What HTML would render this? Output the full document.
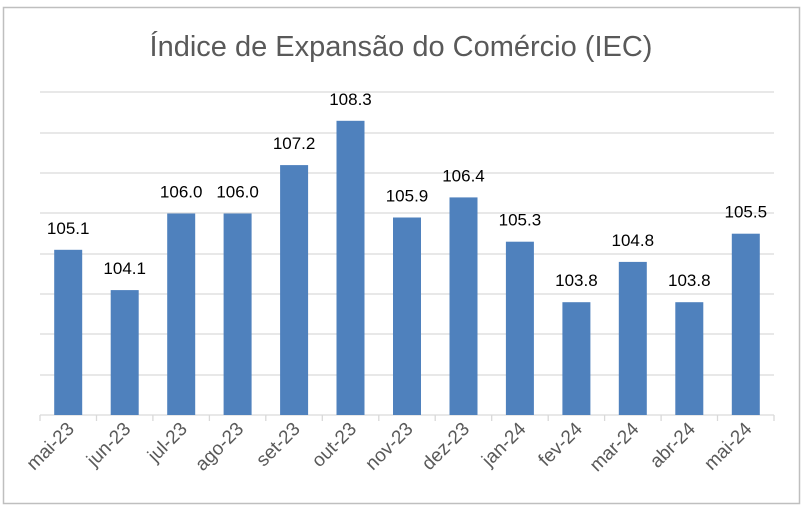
<!DOCTYPE html>
<html><head><meta charset="utf-8"><style>body{margin:0;background:#fff}svg{display:block}</style></head>
<body>
<svg width="804" height="508" xmlns="http://www.w3.org/2000/svg">
<rect x="3.5" y="7.5" width="796" height="496" fill="#fff" stroke="#bfbfbf" stroke-width="1.5"/>
<text x="401" y="56" text-anchor="middle" font-family="Liberation Sans, sans-serif" font-size="29" fill="#595959">Índice de Expansão do Comércio (IEC)</text>
<g stroke="#d9d9d9" stroke-width="1.3">
<line x1="40" x2="774" y1="92" y2="92"/><line x1="40" x2="774" y1="133" y2="133"/><line x1="40" x2="774" y1="173" y2="173"/><line x1="40" x2="774" y1="213" y2="213"/><line x1="40" x2="774" y1="254" y2="254"/><line x1="40" x2="774" y1="294" y2="294"/><line x1="40" x2="774" y1="334" y2="334"/><line x1="40" x2="774" y1="375" y2="375"/>
<line x1="40" x2="774" y1="415" y2="415"/>
<line x1="40" x2="40" y1="415" y2="421"/><line x1="96.5" x2="96.5" y1="415" y2="421"/><line x1="152.9" x2="152.9" y1="415" y2="421"/><line x1="209.4" x2="209.4" y1="415" y2="421"/><line x1="265.8" x2="265.8" y1="415" y2="421"/><line x1="322.3" x2="322.3" y1="415" y2="421"/><line x1="378.8" x2="378.8" y1="415" y2="421"/><line x1="435.2" x2="435.2" y1="415" y2="421"/><line x1="491.7" x2="491.7" y1="415" y2="421"/><line x1="548.2" x2="548.2" y1="415" y2="421"/><line x1="604.6" x2="604.6" y1="415" y2="421"/><line x1="661.1" x2="661.1" y1="415" y2="421"/><line x1="717.5" x2="717.5" y1="415" y2="421"/><line x1="774" x2="774" y1="415" y2="421"/>
</g>
<g fill="#4f81bd">
<rect x="54.2" y="249.8" width="28" height="165.2"/>
<rect x="110.7" y="290.1" width="28" height="124.9"/>
<rect x="167.2" y="213.5" width="28" height="201.5"/>
<rect x="223.6" y="213.5" width="28" height="201.5"/>
<rect x="280.1" y="165.1" width="28" height="249.9"/>
<rect x="336.5" y="120.8" width="28" height="294.2"/>
<rect x="393" y="217.5" width="28" height="197.5"/>
<rect x="449.5" y="197.4" width="28" height="217.6"/>
<rect x="505.9" y="241.7" width="28" height="173.3"/>
<rect x="562.4" y="302.2" width="28" height="112.8"/>
<rect x="618.8" y="261.9" width="28" height="153.1"/>
<rect x="675.3" y="302.2" width="28" height="112.8"/>
<rect x="731.8" y="233.7" width="28" height="181.3"/>
</g>
<g font-family="Liberation Sans, sans-serif" font-size="17" fill="#000" text-anchor="middle">
<text x="68.2" y="233.8">105.1</text>
<text x="124.7" y="274.1">104.1</text>
<text x="181.2" y="197.5">106.0</text>
<text x="237.6" y="197.5">106.0</text>
<text x="294.1" y="149.1">107.2</text>
<text x="350.5" y="104.8">108.3</text>
<text x="407" y="201.5">105.9</text>
<text x="463.5" y="181.4">106.4</text>
<text x="519.9" y="225.7">105.3</text>
<text x="576.4" y="286.2">103.8</text>
<text x="632.8" y="245.9">104.8</text>
<text x="689.3" y="286.2">103.8</text>
<text x="745.8" y="217.7">105.5</text>
</g>
<g font-family="Liberation Sans, sans-serif" font-size="19" fill="#595959" text-anchor="end">
<text transform="translate(75.2,430) rotate(-45)">mai-23</text>
<text transform="translate(131.7,430) rotate(-45)">jun-23</text>
<text transform="translate(188.2,430) rotate(-45)">jul-23</text>
<text transform="translate(244.6,430) rotate(-45)">ago-23</text>
<text transform="translate(301.1,430) rotate(-45)">set-23</text>
<text transform="translate(357.5,430) rotate(-45)">out-23</text>
<text transform="translate(414,430) rotate(-45)">nov-23</text>
<text transform="translate(470.5,430) rotate(-45)">dez-23</text>
<text transform="translate(526.9,430) rotate(-45)">jan-24</text>
<text transform="translate(583.4,430) rotate(-45)">fev-24</text>
<text transform="translate(639.8,430) rotate(-45)">mar-24</text>
<text transform="translate(696.3,430) rotate(-45)">abr-24</text>
<text transform="translate(752.8,430) rotate(-45)">mai-24</text>
</g>
</svg>
</body></html>
